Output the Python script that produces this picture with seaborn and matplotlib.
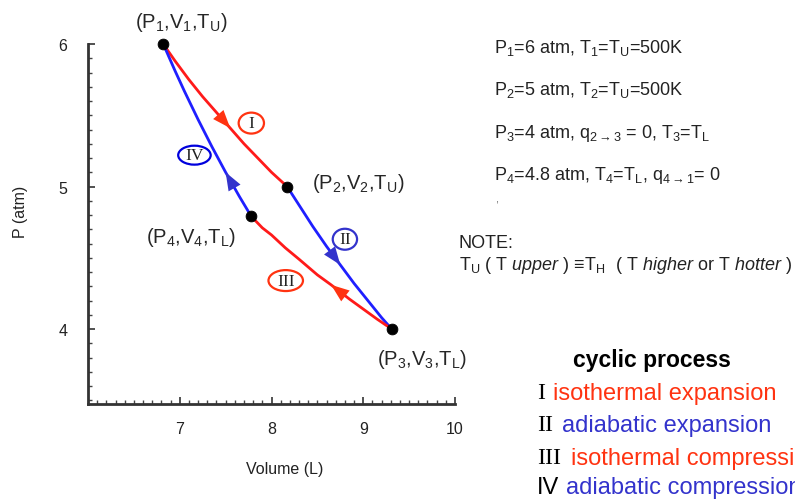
import numpy as np
import pandas as pd
import seaborn as sns
import matplotlib.pyplot as plt
from matplotlib.patches import Ellipse
from matplotlib.ticker import MultipleLocator

# datos (V en L, P en atm)
estado_V = [6.82, 8.17, 9.31, 7.78]
estado_P = [6.0, 5.0, 4.0, 4.79]

tramo_I_V = [6.82, 6.95, 7.1, 7.25, 7.4, 7.55, 7.7, 7.85, 8.0, 8.17]
tramo_I_P = [6.0, 5.88, 5.75, 5.63, 5.52, 5.41, 5.30, 5.20, 5.10, 5.0]
tramo_II_V = [8.17, 8.3, 8.45, 8.6, 8.75, 8.9, 9.05, 9.2, 9.31]
tramo_II_P = [5.0, 4.87, 4.72, 4.58, 4.45, 4.32, 4.20, 4.08, 4.0]
tramo_III_V = [9.31, 9.15, 9.0, 8.85, 8.65, 8.5, 8.3, 8.15, 8.0, 7.9, 7.78]
tramo_III_P = [4.0, 4.07, 4.14, 4.21, 4.31, 4.38, 4.49, 4.57, 4.66, 4.71, 4.79]
tramo_IV_V = [7.78, 7.65, 7.5, 7.35, 7.2, 7.05, 6.95, 6.82]
tramo_IV_P = [4.79, 4.93, 5.10, 5.28, 5.47, 5.67, 5.81, 6.0]

# indice del punto donde va la punta de la flecha
flecha_idx = {'I': 5, 'II': 4, 'III': 4, 'IV': 2}

ROJO = '#ff1a1a'
AZUL = '#1f1fff'
NARANJA = '#ff3311'
AZUL2 = '#3333cc'

sns.set_style('white')
plt.rcParams['font.family'] = ['Liberation Sans', 'DejaVu Sans']
plt.rcParams['mathtext.fontset'] = 'custom'
plt.rcParams['mathtext.rm'] = 'Liberation Sans'
plt.rcParams['mathtext.it'] = 'Liberation Sans:italic'
plt.rcParams['mathtext.bf'] = 'Liberation Sans:bold'

tramos = {'I': (tramo_I_V, tramo_I_P), 'II': (tramo_II_V, tramo_II_P),
          'III': (tramo_III_V, tramo_III_P), 'IV': (tramo_IV_V, tramo_IV_P)}
filas = []
for nombre, (vv, pp) in tramos.items():
    for v, p in zip(vv, pp):
        filas.append({'V': v, 'P': p, 'tramo': nombre})
datos = pd.DataFrame(filas)
paleta = {'I': ROJO, 'II': AZUL, 'III': ROJO, 'IV': AZUL}

fig = plt.figure(figsize=(7.95, 5.02), dpi=100)
ax = fig.add_axes([88 / 795, 1 - 405 / 502, (455 - 88) / 795, (405 - 45) / 502])

sns.lineplot(data=datos, x='V', y='P', hue='tramo', palette=paleta, sort=False,
             estimator=None, legend=False, linewidth=2, ax=ax)
for linea in ax.lines:
    linea.set_solid_joinstyle('round')

color_flecha = {'I': NARANJA, 'II': AZUL2, 'III': NARANJA, 'IV': AZUL2}
for nombre, (vv, pp) in tramos.items():
    k = flecha_idx[nombre]
    ax.annotate('', xy=(vv[k], pp[k]), xytext=(vv[k - 1], pp[k - 1]),
                arrowprops=dict(arrowstyle='-|>,head_length=1.0,head_width=0.38',
                                lw=0, color=color_flecha[nombre],
                                mutation_scale=13, shrinkA=0, shrinkB=0))

sns.scatterplot(x=estado_V, y=estado_P, color='black', s=60, edgecolor='black',
                zorder=5, clip_on=False, ax=ax)

# etiquetas de los estados
ax.text(7.02, 6.16, r'(P$_1$,V$_1$,T$_\mathrm{U}$)', ha='center', va='center', fontsize=14.5)
ax.text(8.44, 5.03, r'(P$_2$,V$_2$,T$_\mathrm{U}$)', ha='left', va='center', fontsize=14.5)
ax.text(6.63, 4.65, r'(P$_4$,V$_4$,T$_\mathrm{L}$)', ha='left', va='center', fontsize=14.5)
ax.text(9.15, 3.79, r'(P$_3$,V$_3$,T$_\mathrm{L}$)', ha='left', va='center', fontsize=14.5)

# numeros romanos con elipse
romanos = [('I', 7.78, 5.445, 0.276, 0.147, NARANJA),
           ('IV', 7.16, 5.22, 0.354, 0.133, '#0000dd'),
           ('II', 8.80, 4.63, 0.265, 0.147, AZUL2),
           ('III', 8.155, 4.34, 0.376, 0.147, NARANJA)]
for txt, x, y, w, h, c in romanos:
    ax.add_patch(Ellipse((x, y), w, h, fill=False, edgecolor=c, lw=1.6, zorder=4))
    ax.text(x, y, txt, ha='center', va='center', fontsize=12.5,
            family='Liberation Serif', color='#222222')

ax.set_xlim(6, 10)
ax.set_ylim(3.474, 6.0)
ax.set_xticks([7, 8, 9, 10])
ax.set_yticks([4, 5, 6])
ax.xaxis.set_minor_locator(MultipleLocator(0.1))
ax.yaxis.set_minor_locator(MultipleLocator(0.1))
ax.tick_params(which='both', bottom=True, left=True, direction='in')
ax.tick_params(which='major', length=5, width=1.2, colors='#333333',
               labelsize=11.5, labelcolor='#222222')
ax.tick_params(axis='y', which='major', pad=15)
ax.tick_params(axis='x', which='major', pad=12)
ax.tick_params(which='minor', length=3, width=1, colors='#444444')
sns.despine(ax=ax)
for lado in ['left', 'bottom']:
    ax.spines[lado].set_linewidth(2)
    ax.spines[lado].set_color('#333333')

ax.set_xlabel('Volume (L)', fontsize=11.5, color='#222222')
ax.set_ylabel('P (atm)', fontsize=11.5, color='#222222')
ax.xaxis.set_label_coords((285 - 88) / 367, (405 - 462) / 360)
ax.yaxis.set_label_coords((28 - 88) / 367, (405 - 212) / 360)

# textos de la derecha
def ftext(px, py, s, **kw):
    fig.text(px / 795, 1 - py / 502, s, va='center', **kw)

ftext(494, 48, r'P$_1$=6 atm, T$_1$=T$_\mathrm{U}$=500K', fontsize=13, color='#222222')
ftext(494, 90, r'P$_2$=5 atm, T$_2$=T$_\mathrm{U}$=500K', fontsize=13, color='#222222')
ftext(494, 133, r'P$_3$=4 atm, q$_{2\rightarrow 3}$ = 0, T$_3$=T$_\mathrm{L}$', fontsize=13, color='#222222')
ftext(494, 176, r'P$_4$=4.8 atm, T$_4$=T$_\mathrm{L}$, q$_{4\rightarrow 1}$= 0', fontsize=13, color='#222222')
ftext(495, 200, ',', fontsize=8, color='#666666')
ftext(459, 243, 'NOTE:', fontsize=13, color='#222222')
ftext(459, 265, r'T$_\mathrm{U}$ ( T $\mathit{upper}$ ) ≡T$_\mathrm{H}$  ( T $\mathit{higher}$ or T $\mathit{hotter}$ )',
      fontsize=13, color='#222222')

fig.text(652 / 795, 1 - 361 / 502, 'cyclic process', ha='center', va='center',
         fontsize=16.5, fontweight='bold', color='black')
ftext(537, 394, 'I', fontsize=17, family='Liberation Serif', color='black')
ftext(553, 394, 'isothermal expansion', fontsize=17, color=NARANJA)
ftext(537, 426, 'II', fontsize=17, family='Liberation Serif', color='black')
ftext(562, 426, 'adiabatic expansion', fontsize=17, color=AZUL2)
ftext(537, 459, 'III', fontsize=17, family='Liberation Serif', color='black')
ftext(571, 459, 'isothermal compression', fontsize=17, color=NARANJA)
ftext(537, 488, 'IV', fontsize=17, color='black')
ftext(566, 488, 'adiabatic compression', fontsize=17, color=AZUL2)

fig.savefig('out.png', dpi=100)
